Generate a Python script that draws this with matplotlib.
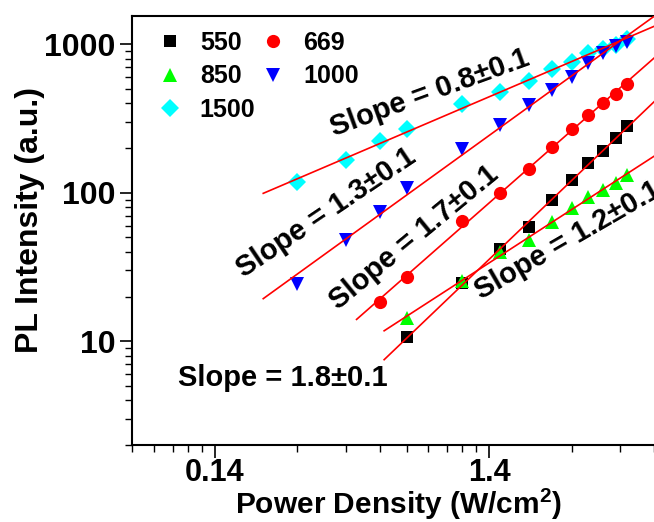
import numpy as np
import matplotlib
matplotlib.use('Agg')
import matplotlib.pyplot as plt
from matplotlib.ticker import FixedLocator, NullFormatter

plt.rcParams['font.family'] = ['Liberation Sans', 'DejaVu Sans']
plt.rcParams['font.weight'] = 'bold'
plt.rcParams['mathtext.fontset'] = 'custom'
plt.rcParams['mathtext.bf'] = 'Liberation Sans:bold'
plt.rcParams['mathtext.rm'] = 'Liberation Sans'

# power density (W/cm2) and PL intensity (a.u.)
x_550 = [0.70, 1.12, 1.54, 1.96, 2.38, 2.80, 3.22, 3.64, 4.06, 4.48]
y_550 = [10.7, 24.6, 41.8, 58.9, 89, 121, 159, 192, 235, 281]
x_850 = [0.70, 1.12, 1.54, 1.96, 2.38, 2.80, 3.22, 3.64, 4.06, 4.48]
y_850 = [14.4, 25.6, 40.1, 48.0, 63.7, 79.1, 94.0, 105, 117, 132]
x_669 = [0.56, 0.70, 1.12, 1.54, 1.96, 2.38, 2.80, 3.22, 3.64, 4.06, 4.48]
y_669 = [18.5, 27.2, 64.1, 100, 145, 204, 267, 336, 403, 466, 543]
x_1000 = [0.28, 0.42, 0.56, 0.70, 1.12, 1.54, 1.96, 2.38, 2.80, 3.22, 3.64, 4.06, 4.48]
y_1000 = [24.3, 48.2, 74.3, 108, 196, 288, 387, 490, 603, 748, 873, 967, 1044]
x_1500 = [0.28, 0.42, 0.56, 0.70, 1.12, 1.54, 1.96, 2.38, 2.80, 3.22, 3.64, 4.06, 4.48]
y_1500 = [118, 165, 223, 267, 397, 475, 563, 685, 755, 873, 933, 992, 1089]

# where each fitted line starts / ends
fit_start = {'550': 0.58, '850': 0.58, '669': 0.46, '1000': 0.21, '1500': 0.21}
fit_end = 6.0

series = [
    ('550', x_550, y_550, 's', 'black', 9),
    ('850', x_850, y_850, '^', '#00ff00', 10),
    ('1500', x_1500, y_1500, 'D', '#00ffff', 9),
    ('669', x_669, y_669, 'o', 'red', 9.5),
    ('1000', x_1000, y_1000, 'v', 'blue', 10),
]

fig = plt.figure(figsize=(6.54, 5.22), dpi=100)
ax = fig.add_axes([0.2018, 0.1475, 0.7982, 0.8218])

handles = []
for name, x, y, m, c, ms in series:
    h, = ax.plot(x, y, linestyle='none', marker=m, color=c, markersize=ms,
                 markeredgewidth=0, label=name, zorder=3)
    handles.append(h)
    # straight line fit in log-log
    k, b = np.polyfit(np.log10(x), np.log10(y), 1)
    xf = np.array([fit_start[name], fit_end])
    ax.plot(xf, 10 ** (k * np.log10(xf) + b), color='red', lw=1.2, zorder=4)

ax.set_xscale('log')
ax.set_yscale('log')
ax.set_xlim(0.0697, 5.6)
ax.set_ylim(2.0, 1550)

ax.xaxis.set_major_locator(FixedLocator([0.14, 1.4]))
ax.xaxis.set_minor_locator(FixedLocator([0.014 * k for k in range(5, 10)] +
                                        [0.14 * k for k in range(2, 10)] +
                                        [1.4 * k for k in range(2, 10)]))
ax.xaxis.set_minor_formatter(NullFormatter())
ax.set_xticklabels(['0.14', '1.4'])
ax.yaxis.set_major_locator(FixedLocator([10, 100, 1000]))
ax.yaxis.set_minor_locator(FixedLocator([k * 10.0 ** e for e in range(0, 4)
                                         for k in range(2, 10)]))
ax.yaxis.set_minor_formatter(NullFormatter())
ax.set_yticklabels(['10', '100', '1000'])

ax.tick_params(which='major', direction='out', length=9, width=1.2,
               labelsize=23, pad=3)
ax.tick_params(axis='x', which='major', pad=0, labelsize=22)
ax.tick_params(which='minor', direction='out', length=5, width=1.0)
ax.tick_params(top=False, right=False, which='both')
ax.spines['right'].set_visible(False)
for s in ['left', 'bottom', 'top']:
    ax.spines[s].set_linewidth(1.5)

ax.set_xlabel('Power Density (W/cm$^{\\mathbf{2}}$)', fontsize=21.5,
              fontweight='bold')
ax.xaxis.set_label_coords(0.511, -0.1375)
ax.xaxis.label.set_va('center')
ax.set_ylabel('PL Intensity (a.u.)', fontsize=23, fontweight='bold')
ax.yaxis.set_label_coords(-0.195, 0.524)
ax.yaxis.label.set_va('center')

ax.legend(handles=handles, ncol=2, loc='upper left', frameon=False,
          fontsize=18, handlelength=1.0, handletextpad=0.7,
          columnspacing=0.2, labelspacing=0.38, borderaxespad=0.3,
          bbox_to_anchor=(0.015, 1.006))

# slope annotations (pixel positions in the figure)
slope_txt = [
    ('Slope = 0.8±0.1', 430, 93, 20),
    ('Slope = 1.3±0.1', 326, 213, 34),
    ('Slope = 1.7±0.1', 414, 238, 39.5),
    ('Slope = 1.2±0.1', 568, 240, 30),
    ('Slope = 1.8±0.1', 283, 378, 0),
]
for t, px, py, rot in slope_txt:
    fig.text(px / 654, 1 - py / 522, t, fontsize=21, fontweight='bold',
             rotation=rot, rotation_mode='anchor', ha='center', va='center')

fig.savefig('out.png', dpi=100)
